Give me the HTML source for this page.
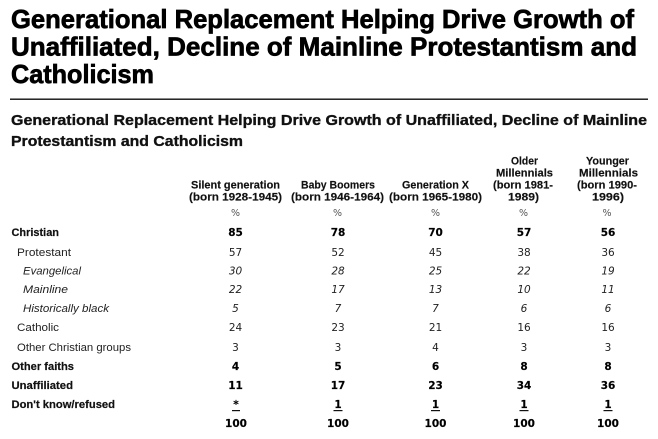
<!DOCTYPE html>
<html>
<head>
<meta charset="utf-8">
<style>
  html, body { margin: 0; padding: 0; background: #ffffff; }
  body { width: 658px; height: 439px; overflow: hidden; }
  svg { display: block; }
  .t { font-family: "Liberation Sans", Arial, sans-serif; font-weight: bold; font-size: 26px; fill: #000; stroke: #000; stroke-width: 0.7px; }
  .s { font-family: "Liberation Sans", Arial, sans-serif; font-weight: bold; font-size: 15px; fill: #111; stroke: #111; stroke-width: 0.35px; }
  .h { font-family: "Liberation Sans", Arial, sans-serif; font-weight: bold; font-size: 11px; fill: #111; stroke: #111; stroke-width: 0.15px; }
  .lb { font-family: "Liberation Sans", Arial, sans-serif; font-weight: bold; font-size: 11px; fill: #111; stroke: #111; stroke-width: 0.2px; }
  .lr { font-family: "Liberation Sans", Arial, sans-serif; font-size: 11px; fill: #222; }
  .li { font-family: "Liberation Sans", Arial, sans-serif; font-style: italic; font-size: 11px; fill: #222; }
  .nb { font-family: "DejaVu Sans", sans-serif; font-weight: bold; font-size: 10.5px; fill: #000; stroke: #000; stroke-width: 0.15px; }
  .nr { font-family: "DejaVu Sans", sans-serif; font-size: 10.5px; fill: #222; }
  .ni { font-family: "DejaVu Sans", sans-serif; font-style: italic; font-size: 10.5px; fill: #222; }
  .pc { font-family: "DejaVu Sans", sans-serif; font-size: 9.5px; fill: #555; }
</style>
</head>
<body>
<svg width="658" height="439" viewBox="0 0 658 439" xmlns="http://www.w3.org/2000/svg">
  <rect x="0" y="0" width="658" height="439" fill="#ffffff"/>

  <!-- Title -->
  <text class="t" x="11" y="28" textLength="623" lengthAdjust="spacingAndGlyphs">Generational Replacement Helping Drive Growth of</text>
  <text class="t" x="11" y="55.5" textLength="626" lengthAdjust="spacingAndGlyphs">Unaffiliated, Decline of Mainline Protestantism and</text>
  <text class="t" x="11" y="83" textLength="143" lengthAdjust="spacingAndGlyphs">Catholicism</text>

  <rect x="10" y="98.5" width="638" height="1.4" fill="#111"/>

  <!-- Subtitle -->
  <text class="s" x="11" y="125" textLength="636" lengthAdjust="spacingAndGlyphs">Generational Replacement Helping Drive Growth of Unaffiliated, Decline of Mainline</text>
  <text class="s" x="11" y="146" textLength="232" lengthAdjust="spacingAndGlyphs">Protestantism and Catholicism</text>

  <!-- Column headers -->
  <text class="h" x="191" y="188.5" textLength="89" lengthAdjust="spacingAndGlyphs">Silent generation</text>
  <text class="h" x="189" y="200.5" textLength="93" lengthAdjust="spacingAndGlyphs">(born 1928-1945)</text>

  <text class="h" x="301" y="188.5" textLength="74" lengthAdjust="spacingAndGlyphs">Baby Boomers</text>
  <text class="h" x="291" y="200.5" textLength="93" lengthAdjust="spacingAndGlyphs">(born 1946-1964)</text>

  <text class="h" x="402" y="188.5" textLength="67" lengthAdjust="spacingAndGlyphs">Generation X</text>
  <text class="h" x="389" y="200.5" textLength="93" lengthAdjust="spacingAndGlyphs">(born 1965-1980)</text>

  <text class="h" x="511" y="164.5" textLength="27" lengthAdjust="spacingAndGlyphs">Older</text>
  <text class="h" x="496" y="176.5" textLength="57" lengthAdjust="spacingAndGlyphs">Millennials</text>
  <text class="h" x="493" y="188.5" textLength="60" lengthAdjust="spacingAndGlyphs">(born 1981-</text>
  <text class="h" x="508" y="200.5" textLength="31" lengthAdjust="spacingAndGlyphs">1989)</text>

  <text class="h" x="586" y="164.5" textLength="43" lengthAdjust="spacingAndGlyphs">Younger</text>
  <text class="h" x="579" y="176.5" textLength="59" lengthAdjust="spacingAndGlyphs">Millennials</text>
  <text class="h" x="577" y="188.5" textLength="60" lengthAdjust="spacingAndGlyphs">(born 1990-</text>
  <text class="h" x="592" y="200.5" textLength="32" lengthAdjust="spacingAndGlyphs">1996)</text>

  <!-- % row -->
  <g class="pc" text-anchor="middle">
    <text x="235.5" y="216">%</text>
    <text x="337.5" y="216">%</text>
    <text x="435.5" y="216">%</text>
    <text x="523.5" y="216">%</text>
    <text x="607" y="216">%</text>
  </g>

  <!-- Row labels -->
  <text class="lb" x="11.5" y="236" textLength="47.5" lengthAdjust="spacingAndGlyphs">Christian</text>
  <text class="lr" x="17" y="256" textLength="54" lengthAdjust="spacingAndGlyphs">Protestant</text>
  <text class="li" x="23" y="274.5" textLength="58" lengthAdjust="spacingAndGlyphs">Evangelical</text>
  <text class="li" x="23" y="293" textLength="45" lengthAdjust="spacingAndGlyphs">Mainline</text>
  <text class="li" x="23" y="312" textLength="86" lengthAdjust="spacingAndGlyphs">Historically black</text>
  <text class="lr" x="17" y="331" textLength="42" lengthAdjust="spacingAndGlyphs">Catholic</text>
  <text class="lr" x="17" y="351" textLength="114" lengthAdjust="spacingAndGlyphs">Other Christian groups</text>
  <text class="lb" x="11.5" y="370" textLength="62.5" lengthAdjust="spacingAndGlyphs">Other faiths</text>
  <text class="lb" x="11.5" y="389" textLength="61.5" lengthAdjust="spacingAndGlyphs">Unaffiliated</text>
  <text class="lb" x="11.5" y="408" textLength="103.5" lengthAdjust="spacingAndGlyphs">Don't know/refused</text>

  <!-- Data: Christian (bold) -->
  <g class="nb" text-anchor="middle">
    <text x="235.5" y="236">85</text>
    <text x="338" y="236">78</text>
    <text x="435.5" y="236">70</text>
    <text x="524" y="236">57</text>
    <text x="608" y="236">56</text>
  </g>
  <!-- Protestant -->
  <g class="nr" text-anchor="middle">
    <text x="235.5" y="256">57</text>
    <text x="338" y="256">52</text>
    <text x="435.5" y="256">45</text>
    <text x="524" y="256">38</text>
    <text x="608" y="256">36</text>
  </g>
  <!-- Evangelical -->
  <g class="ni" text-anchor="middle">
    <text x="235.5" y="274.5">30</text>
    <text x="338" y="274.5">28</text>
    <text x="435.5" y="274.5">25</text>
    <text x="524" y="274.5">22</text>
    <text x="608" y="274.5">19</text>
  </g>
  <!-- Mainline -->
  <g class="ni" text-anchor="middle">
    <text x="235.5" y="293">22</text>
    <text x="338" y="293">17</text>
    <text x="435.5" y="293">13</text>
    <text x="524" y="293">10</text>
    <text x="608" y="293">11</text>
  </g>
  <!-- Historically black -->
  <g class="ni" text-anchor="middle">
    <text x="235.5" y="312">5</text>
    <text x="338" y="312">7</text>
    <text x="435.5" y="312">7</text>
    <text x="524" y="312">6</text>
    <text x="608" y="312">6</text>
  </g>
  <!-- Catholic -->
  <g class="nr" text-anchor="middle">
    <text x="235.5" y="331">24</text>
    <text x="338" y="331">23</text>
    <text x="435.5" y="331">21</text>
    <text x="524" y="331">16</text>
    <text x="608" y="331">16</text>
  </g>
  <!-- Other Christian groups -->
  <g class="nr" text-anchor="middle">
    <text x="235.5" y="351">3</text>
    <text x="338" y="351">3</text>
    <text x="435.5" y="351">4</text>
    <text x="524" y="351">3</text>
    <text x="608" y="351">3</text>
  </g>
  <!-- Other faiths -->
  <g class="nb" text-anchor="middle">
    <text x="235.5" y="370">4</text>
    <text x="338" y="370">5</text>
    <text x="435.5" y="370">6</text>
    <text x="524" y="370">8</text>
    <text x="608" y="370">8</text>
  </g>
  <!-- Unaffiliated -->
  <g class="nb" text-anchor="middle">
    <text x="235.5" y="389">11</text>
    <text x="338" y="389">17</text>
    <text x="435.5" y="389">23</text>
    <text x="524" y="389">34</text>
    <text x="608" y="389">36</text>
  </g>
  <!-- Don't know/refused (underlined) -->
  <g class="nb" text-anchor="middle">
    <text x="236" y="408">*</text>
    <text x="338" y="408">1</text>
    <text x="435.5" y="408">1</text>
    <text x="524" y="408">1</text>
    <text x="608" y="408">1</text>
  </g>
  <g fill="#111">
    <rect x="232" y="410" width="8" height="1.2"/>
    <rect x="333.5" y="410" width="9" height="1.2"/>
    <rect x="431" y="410" width="9" height="1.2"/>
    <rect x="519.5" y="410" width="9" height="1.2"/>
    <rect x="603.5" y="410" width="9" height="1.2"/>
  </g>
  <!-- Totals -->
  <g class="nb" text-anchor="middle">
    <text x="236" y="427">100</text>
    <text x="338" y="427">100</text>
    <text x="435.5" y="427">100</text>
    <text x="524" y="427">100</text>
    <text x="608" y="427">100</text>
  </g>
</svg>
</body>
</html>
